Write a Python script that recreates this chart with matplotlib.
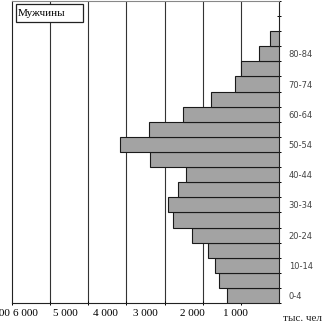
import numpy as np
import matplotlib.pyplot as plt
from matplotlib.patches import Rectangle
from matplotlib.transforms import ScaledTranslation

# возрастные группы (снизу вверх) и численность мужчин, тыс. чел
ages = ['0-4', '5-9', '10-14', '15-19', '20-24', '25-29', '30-34', '35-39',
        '40-44', '45-49', '50-54', '55-59', '60-64', '65-69', '70-74',
        '75-79', '80-84', '85+']
men = [1370, 1560, 1680, 1870, 2290, 2780, 2900, 2660,
       2430, 3380, 4180, 3420, 2520, 1780, 1150, 1000, 520, 240]

x_ticks = [1000, 2000, 3000, 4000, 5000, 6000, 7000]
x_labels = ['1 000', '2 000', '3 000', '4 000', '5 000', '6 000', '7 000']

fig = plt.figure(figsize=(3.29, 3.22), dpi=100)
ax = fig.add_axes([12 / 329, 19 / 322, 267 / 329, 302 / 322])

y = np.arange(len(ages))
ax.barh(y, men, height=1.0, color='#a3a3a3', edgecolor='#1a1a1a',
        linewidth=0.8, zorder=3)

ax.set_xlim(7000, 0)
ax.set_ylim(-0.5, 19.5)

# вертикальная сетка
for v in x_ticks[:-1]:
    ax.axvline(v, color='#333333', linewidth=0.8, zorder=1)

for s in ax.spines.values():
    s.set_linewidth(0.8)
    s.set_color('#222222')
ax.spines['top'].set_color('#888888')

ax.set_xticks(x_ticks)
ax.set_xticklabels(x_labels, family='Liberation Serif', fontsize=8)
ax.tick_params(axis='x', direction='inout', length=3, width=0.7, pad=3)
# подписи по оси x немного смещены влево, как в оригинале
shifts = [-5, -10, -19, -21, -23, -25, -15]
for lbl, dx in zip(ax.get_xticklabels(), shifts):
    lbl.set_transform(lbl.get_transform() + ScaledTranslation(dx / 100, 0, fig.dpi_scale_trans))

ax.yaxis.tick_right()
ax.set_yticks(y[::2])
ax.set_yticklabels(ages[::2], fontsize=6, color='#444444')
ax.set_yticks(np.arange(-0.5, 20, 1), minor=True)
ax.tick_params(axis='y', which='major', length=0, pad=7)
ax.tick_params(axis='y', which='minor', direction='inout', length=3, width=0.7)

ax.text(1.015, -0.035, 'тыс. чел', transform=ax.transAxes, ha='left', va='top',
        family='Liberation Serif', fontsize=8, color='#222222')

# рамка с подписью
ax.add_patch(Rectangle((4 / 267, 1 - 21 / 302), 67 / 267, 18 / 302,
                       transform=ax.transAxes, facecolor='white',
                       edgecolor='#222222', linewidth=0.9, zorder=5))
ax.text(6 / 267, 1 - 12.5 / 302, 'Мужчины', transform=ax.transAxes,
        ha='left', va='center', family='Liberation Serif', fontsize=8,
        zorder=6)

plt.savefig('out.png', dpi=100)
